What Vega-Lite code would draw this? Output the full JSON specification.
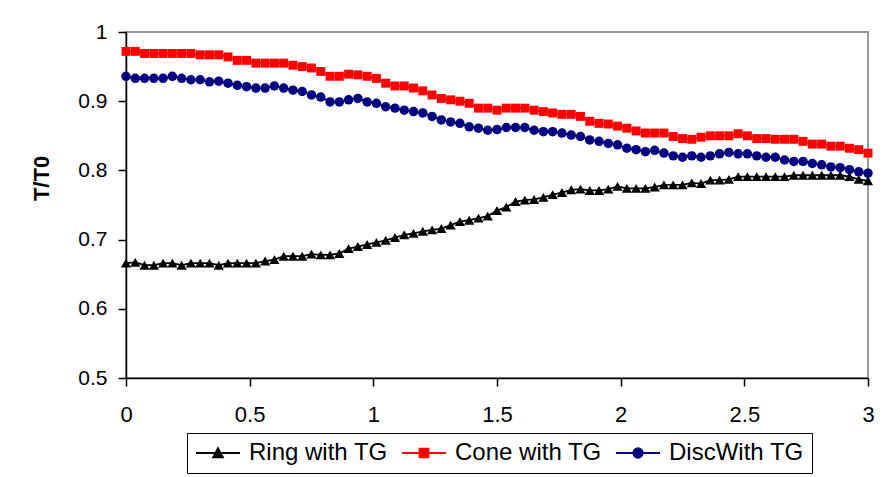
{
  "$schema": "https://vega.github.io/schema/vega-lite/v6.json",
  "autosize": "none",
  "width": 742,
  "height": 346,
  "padding": {"left": 126, "top": 32, "right": 27, "bottom": 99},
  "background": "white",
  "config": {
    "font": "Liberation Sans",
    "view": {"stroke": "#9a9a9a", "strokeWidth": 2},
    "axis": {"grid": false, "domainColor": "black", "domainWidth": 1.5, "tickColor": "black", "tickWidth": 1.5, "labelColor": "black", "titleColor": "black"}
  },
  "data": {"values": [
    {"x":0,"Ring with TG":0.666,"Cone with TG":0.972,"DiscWith TG":0.936},
    {"x":0.0375,"Ring with TG":0.667,"Cone with TG":0.972,"DiscWith TG":0.933},
    {"x":0.075,"Ring with TG":0.663,"Cone with TG":0.969,"DiscWith TG":0.933},
    {"x":0.1125,"Ring with TG":0.663,"Cone with TG":0.969,"DiscWith TG":0.933},
    {"x":0.15,"Ring with TG":0.666,"Cone with TG":0.969,"DiscWith TG":0.933},
    {"x":0.1875,"Ring with TG":0.666,"Cone with TG":0.969,"DiscWith TG":0.936},
    {"x":0.225,"Ring with TG":0.663,"Cone with TG":0.969,"DiscWith TG":0.933},
    {"x":0.2625,"Ring with TG":0.666,"Cone with TG":0.969,"DiscWith TG":0.931},
    {"x":0.3,"Ring with TG":0.666,"Cone with TG":0.967,"DiscWith TG":0.931},
    {"x":0.3375,"Ring with TG":0.666,"Cone with TG":0.967,"DiscWith TG":0.928},
    {"x":0.375,"Ring with TG":0.663,"Cone with TG":0.967,"DiscWith TG":0.929},
    {"x":0.4125,"Ring with TG":0.666,"Cone with TG":0.964,"DiscWith TG":0.926},
    {"x":0.45,"Ring with TG":0.666,"Cone with TG":0.959,"DiscWith TG":0.923},
    {"x":0.4875,"Ring with TG":0.666,"Cone with TG":0.959,"DiscWith TG":0.921},
    {"x":0.525,"Ring with TG":0.666,"Cone with TG":0.955,"DiscWith TG":0.919},
    {"x":0.5625,"Ring with TG":0.669,"Cone with TG":0.955,"DiscWith TG":0.919},
    {"x":0.6,"Ring with TG":0.671,"Cone with TG":0.955,"DiscWith TG":0.922},
    {"x":0.6375,"Ring with TG":0.676,"Cone with TG":0.955,"DiscWith TG":0.919},
    {"x":0.675,"Ring with TG":0.676,"Cone with TG":0.952,"DiscWith TG":0.916},
    {"x":0.7125,"Ring with TG":0.676,"Cone with TG":0.950,"DiscWith TG":0.914},
    {"x":0.75,"Ring with TG":0.679,"Cone with TG":0.948,"DiscWith TG":0.909},
    {"x":0.7875,"Ring with TG":0.678,"Cone with TG":0.943,"DiscWith TG":0.906},
    {"x":0.825,"Ring with TG":0.678,"Cone with TG":0.936,"DiscWith TG":0.899},
    {"x":0.8625,"Ring with TG":0.680,"Cone with TG":0.936,"DiscWith TG":0.899},
    {"x":0.9,"Ring with TG":0.687,"Cone with TG":0.939,"DiscWith TG":0.902},
    {"x":0.9375,"Ring with TG":0.690,"Cone with TG":0.938,"DiscWith TG":0.904},
    {"x":0.975,"Ring with TG":0.693,"Cone with TG":0.936,"DiscWith TG":0.899},
    {"x":1.0125,"Ring with TG":0.696,"Cone with TG":0.933,"DiscWith TG":0.897},
    {"x":1.05,"Ring with TG":0.699,"Cone with TG":0.926,"DiscWith TG":0.892},
    {"x":1.0875,"Ring with TG":0.703,"Cone with TG":0.922,"DiscWith TG":0.890},
    {"x":1.125,"Ring with TG":0.707,"Cone with TG":0.922,"DiscWith TG":0.887},
    {"x":1.1625,"Ring with TG":0.709,"Cone with TG":0.919,"DiscWith TG":0.885},
    {"x":1.2,"Ring with TG":0.712,"Cone with TG":0.915,"DiscWith TG":0.883},
    {"x":1.2375,"Ring with TG":0.714,"Cone with TG":0.909,"DiscWith TG":0.878},
    {"x":1.275,"Ring with TG":0.716,"Cone with TG":0.904,"DiscWith TG":0.873},
    {"x":1.3125,"Ring with TG":0.721,"Cone with TG":0.902,"DiscWith TG":0.870},
    {"x":1.35,"Ring with TG":0.726,"Cone with TG":0.900,"DiscWith TG":0.868},
    {"x":1.3875,"Ring with TG":0.728,"Cone with TG":0.897,"DiscWith TG":0.863},
    {"x":1.425,"Ring with TG":0.731,"Cone with TG":0.890,"DiscWith TG":0.861},
    {"x":1.4625,"Ring with TG":0.734,"Cone with TG":0.890,"DiscWith TG":0.858},
    {"x":1.5,"Ring with TG":0.742,"Cone with TG":0.887,"DiscWith TG":0.859},
    {"x":1.5375,"Ring with TG":0.747,"Cone with TG":0.890,"DiscWith TG":0.862},
    {"x":1.575,"Ring with TG":0.755,"Cone with TG":0.890,"DiscWith TG":0.862},
    {"x":1.6125,"Ring with TG":0.757,"Cone with TG":0.890,"DiscWith TG":0.862},
    {"x":1.65,"Ring with TG":0.758,"Cone with TG":0.887,"DiscWith TG":0.858},
    {"x":1.6875,"Ring with TG":0.761,"Cone with TG":0.885,"DiscWith TG":0.856},
    {"x":1.725,"Ring with TG":0.765,"Cone with TG":0.883,"DiscWith TG":0.856},
    {"x":1.7625,"Ring with TG":0.768,"Cone with TG":0.881,"DiscWith TG":0.854},
    {"x":1.8,"Ring with TG":0.772,"Cone with TG":0.881,"DiscWith TG":0.851},
    {"x":1.8375,"Ring with TG":0.773,"Cone with TG":0.878,"DiscWith TG":0.849},
    {"x":1.875,"Ring with TG":0.771,"Cone with TG":0.871,"DiscWith TG":0.844},
    {"x":1.9125,"Ring with TG":0.771,"Cone with TG":0.868,"DiscWith TG":0.842},
    {"x":1.95,"Ring with TG":0.773,"Cone with TG":0.867,"DiscWith TG":0.839},
    {"x":1.9875,"Ring with TG":0.777,"Cone with TG":0.864,"DiscWith TG":0.837},
    {"x":2.025,"Ring with TG":0.774,"Cone with TG":0.861,"DiscWith TG":0.832},
    {"x":2.0625,"Ring with TG":0.774,"Cone with TG":0.857,"DiscWith TG":0.830},
    {"x":2.1,"Ring with TG":0.774,"Cone with TG":0.854,"DiscWith TG":0.827},
    {"x":2.1375,"Ring with TG":0.776,"Cone with TG":0.854,"DiscWith TG":0.829},
    {"x":2.175,"Ring with TG":0.779,"Cone with TG":0.854,"DiscWith TG":0.825},
    {"x":2.2125,"Ring with TG":0.779,"Cone with TG":0.849,"DiscWith TG":0.821},
    {"x":2.25,"Ring with TG":0.779,"Cone with TG":0.846,"DiscWith TG":0.819},
    {"x":2.2875,"Ring with TG":0.782,"Cone with TG":0.845,"DiscWith TG":0.821},
    {"x":2.325,"Ring with TG":0.781,"Cone with TG":0.848,"DiscWith TG":0.819},
    {"x":2.3625,"Ring with TG":0.786,"Cone with TG":0.850,"DiscWith TG":0.821},
    {"x":2.4,"Ring with TG":0.786,"Cone with TG":0.850,"DiscWith TG":0.824},
    {"x":2.4375,"Ring with TG":0.787,"Cone with TG":0.850,"DiscWith TG":0.826},
    {"x":2.475,"Ring with TG":0.791,"Cone with TG":0.853,"DiscWith TG":0.824},
    {"x":2.5125,"Ring with TG":0.791,"Cone with TG":0.850,"DiscWith TG":0.824},
    {"x":2.55,"Ring with TG":0.791,"Cone with TG":0.846,"DiscWith TG":0.821},
    {"x":2.5875,"Ring with TG":0.791,"Cone with TG":0.846,"DiscWith TG":0.819},
    {"x":2.625,"Ring with TG":0.791,"Cone with TG":0.845,"DiscWith TG":0.819},
    {"x":2.6625,"Ring with TG":0.791,"Cone with TG":0.845,"DiscWith TG":0.815},
    {"x":2.7,"Ring with TG":0.793,"Cone with TG":0.845,"DiscWith TG":0.813},
    {"x":2.7375,"Ring with TG":0.793,"Cone with TG":0.842,"DiscWith TG":0.813},
    {"x":2.775,"Ring with TG":0.793,"Cone with TG":0.838,"DiscWith TG":0.810},
    {"x":2.8125,"Ring with TG":0.793,"Cone with TG":0.838,"DiscWith TG":0.808},
    {"x":2.85,"Ring with TG":0.793,"Cone with TG":0.835,"DiscWith TG":0.805},
    {"x":2.8875,"Ring with TG":0.793,"Cone with TG":0.835,"DiscWith TG":0.804},
    {"x":2.925,"Ring with TG":0.791,"Cone with TG":0.832,"DiscWith TG":0.801},
    {"x":2.9625,"Ring with TG":0.787,"Cone with TG":0.830,"DiscWith TG":0.798},
    {"x":3,"Ring with TG":0.785,"Cone with TG":0.825,"DiscWith TG":0.796}
  ]},
  "transform": [{"fold": ["Ring with TG", "Cone with TG", "DiscWith TG"], "as": ["series", "T"]}],
  "encoding": {
    "x": {"field": "x", "type": "quantitative", "scale": {"domain": [0, 3], "nice": false, "zero": false},
      "axis": {"title": null, "values": [0, 0.5, 1, 1.5, 2, 2.5, 3], "format": ".1~f", "labelFontSize": 22, "tickSize": 8, "labelPadding": 18, "labelFlush": false}},
    "y": {"field": "T", "type": "quantitative", "scale": {"domain": [0.5, 1], "nice": false, "zero": false},
      "axis": {"title": "T/T0", "values": [0.5, 0.6, 0.7, 0.8, 0.9, 1], "format": ".1~f", "labelFontSize": 21, "tickSize": 8, "labelPadding": 11, "labelFlush": false,
        "titleFontSize": 22, "titleFontWeight": "bold", "titleX": -73, "titleY": 146, "titleAngle": -90, "titleBaseline": "bottom", "titleAlign": "center"}},
    "color": {"field": "series", "type": "nominal",
      "scale": {"domain": ["Ring with TG", "Cone with TG", "DiscWith TG"], "range": ["#000000", "#ff0000", "#000080"]},
      "legend": {"title": null, "orient": "none", "legendX": 61, "legendY": 401, "direction": "horizontal", "columns": 3,
        "strokeColor": "black", "padding": 8, "columnPadding": 10, "labelOffset": 30, "labelFontSize": 24, "labelColor": "black",
        "symbolSize": 484,
        "encode": {"symbols": {"update": {
          "shape": {"signal": "datum.value === 'Ring with TG' ? 'M-1,0H3M0.55,0.4L1,-0.45L1.45,0.4Z' : datum.value === 'Cone with TG' ? 'M-1,0H3M0.6,-0.4H1.4V0.4H0.6Z' : 'M-1,0H3M0.57,0A0.43,0.43 0 1,0 1.43,0A0.43,0.43 0 1,0 0.57,0Z'"},
          "size": {"value": 484},
          "fill": {"signal": "scale('color', datum.value)"},
          "stroke": {"signal": "scale('color', datum.value)"},
          "fillOpacity": {"value": 1},
          "strokeOpacity": {"value": 1},
          "strokeWidth": {"value": 1.8},
          "opacity": {"value": 1}
        }}}}
    }
  },
  "layer": [
    {"mark": {"type": "line", "strokeWidth": 1.8}},
    {"transform": [{"filter": {"field": "series", "equal": "Ring with TG"}}],
     "mark": {"type": "point", "shape": "triangle-up", "filled": true, "opacity": 1, "size": 105}},
    {"transform": [{"filter": {"field": "series", "equal": "Cone with TG"}}],
     "mark": {"type": "point", "shape": "square", "filled": true, "opacity": 1, "size": 80}},
    {"transform": [{"filter": {"field": "series", "equal": "DiscWith TG"}}],
     "mark": {"type": "point", "shape": "circle", "filled": true, "opacity": 1, "size": 90}}
  ]
}
